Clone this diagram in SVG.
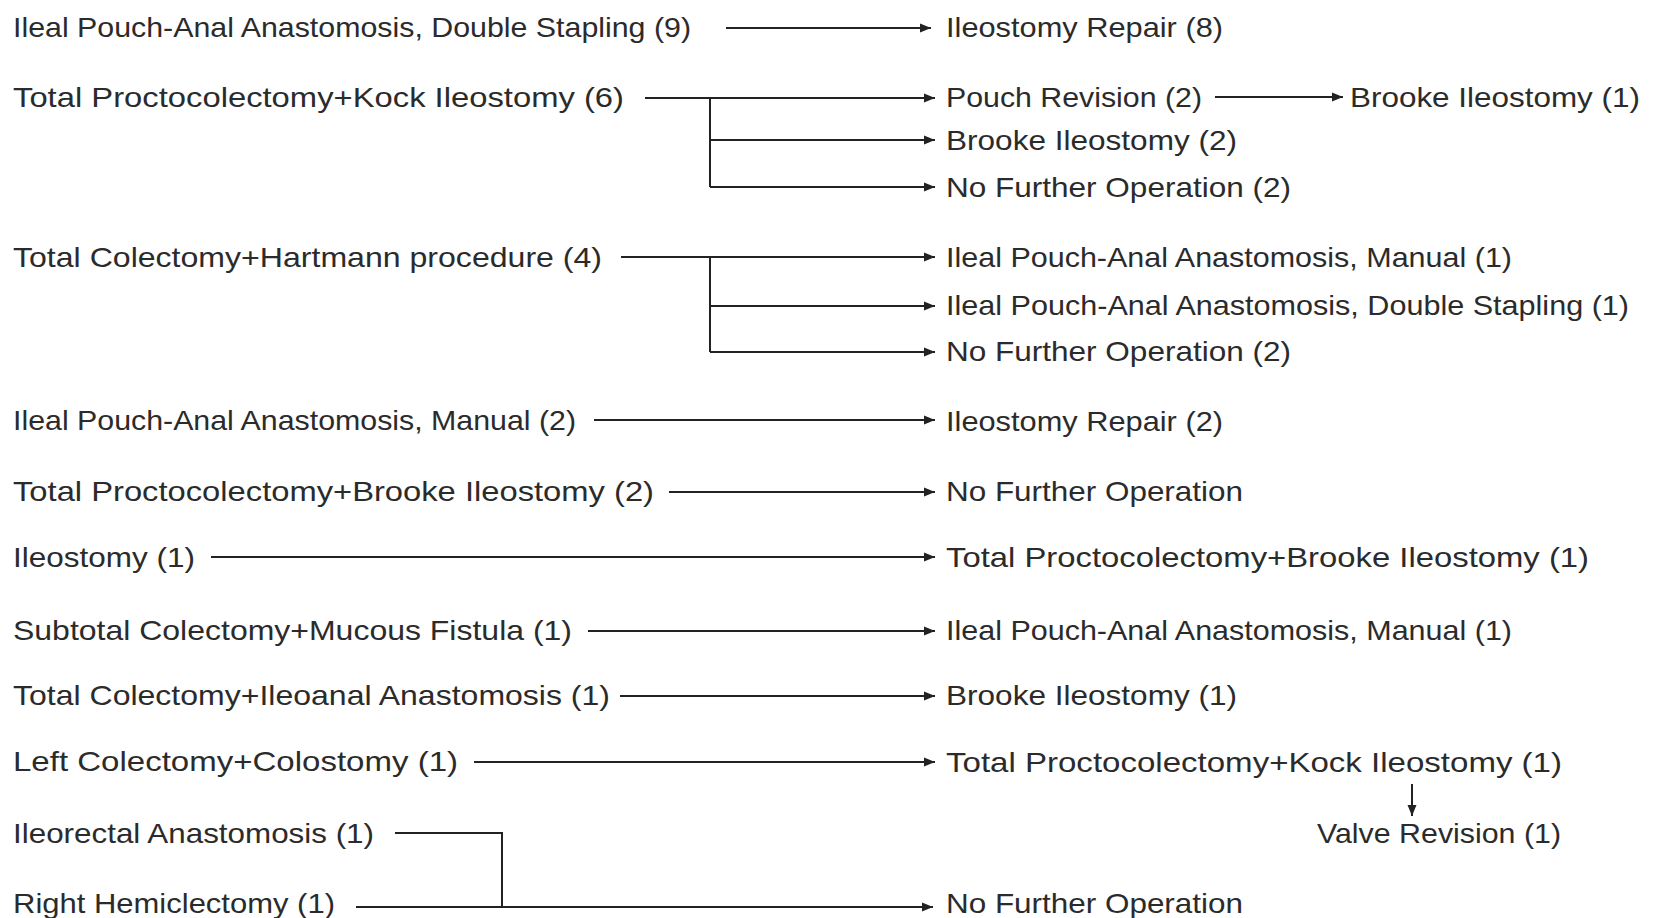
<svg xmlns="http://www.w3.org/2000/svg" width="1658" height="918" viewBox="0 0 1658 918">
<style>
text { font-family: "Liberation Sans", Arial, sans-serif; font-size: 28.5px; fill: #2b2b2b; }
.c { stroke: #222; stroke-width: 2; fill: none; }
.a { marker-end: url(#arr); }
</style>
<defs>
<marker id="arr" markerUnits="userSpaceOnUse" markerWidth="12" markerHeight="10" refX="11" refY="5" orient="auto">
<path d="M0,0.5 L11,5 L0,9.5 z" fill="#222"/>
</marker>
</defs>
<rect width="1658" height="918" fill="#fff"/>
<g id="connectors">
<path class="c a" d="M726,28 H931"/>
<path class="c a" d="M645,98 H935"/>
<path class="c" d="M710,98 V187"/>
<path class="c a" d="M710,140 H935"/>
<path class="c a" d="M710,187 H935"/>
<path class="c a" d="M1215,97 H1343"/>
<path class="c a" d="M621,257 H935"/>
<path class="c" d="M710,257 V352"/>
<path class="c a" d="M710,306 H935"/>
<path class="c a" d="M710,352 H935"/>
<path class="c a" d="M594,420 H935"/>
<path class="c a" d="M669,492 H935"/>
<path class="c a" d="M211,557 H935"/>
<path class="c a" d="M588,631 H935"/>
<path class="c a" d="M620,696 H935"/>
<path class="c a" d="M474,762 H935"/>
<path class="c a" d="M1412,784 V816"/>
<path class="c" d="M395,833 H502 V907"/>
<path class="c a" d="M356,907 H933"/>
</g>
<g id="n-ipaa-ds9"><text x="13" y="37" textLength="678" lengthAdjust="spacingAndGlyphs">Ileal Pouch-Anal Anastomosis, Double Stapling (9)</text></g>
<g id="n-ileo-repair8"><text x="946" y="37" textLength="277" lengthAdjust="spacingAndGlyphs">Ileostomy Repair (8)</text></g>
<g id="n-tpc-kock6"><text x="13" y="107" textLength="611" lengthAdjust="spacingAndGlyphs">Total Proctocolectomy+Kock Ileostomy (6)</text></g>
<g id="n-pouch-rev2"><text x="946" y="107" textLength="256" lengthAdjust="spacingAndGlyphs">Pouch Revision (2)</text></g>
<g id="n-brooke1a"><text x="1350" y="107" textLength="290" lengthAdjust="spacingAndGlyphs">Brooke Ileostomy (1)</text></g>
<g id="n-brooke2"><text x="946" y="150" textLength="291" lengthAdjust="spacingAndGlyphs">Brooke Ileostomy (2)</text></g>
<g id="n-nfo2a"><text x="946" y="197" textLength="345" lengthAdjust="spacingAndGlyphs">No Further Operation (2)</text></g>
<g id="n-tc-hartmann4"><text x="13" y="267" textLength="589" lengthAdjust="spacingAndGlyphs">Total Colectomy+Hartmann procedure (4)</text></g>
<g id="n-ipaa-m1a"><text x="946" y="267" textLength="566" lengthAdjust="spacingAndGlyphs">Ileal Pouch-Anal Anastomosis, Manual (1)</text></g>
<g id="n-ipaa-ds1"><text x="946" y="315" textLength="683" lengthAdjust="spacingAndGlyphs">Ileal Pouch-Anal Anastomosis, Double Stapling (1)</text></g>
<g id="n-nfo2b"><text x="946" y="361" textLength="345" lengthAdjust="spacingAndGlyphs">No Further Operation (2)</text></g>
<g id="n-ipaa-m2"><text x="13" y="430" textLength="563" lengthAdjust="spacingAndGlyphs">Ileal Pouch-Anal Anastomosis, Manual (2)</text></g>
<g id="n-ileo-repair2"><text x="946" y="431" textLength="277" lengthAdjust="spacingAndGlyphs">Ileostomy Repair (2)</text></g>
<g id="n-tpc-brooke2"><text x="13" y="501" textLength="641" lengthAdjust="spacingAndGlyphs">Total Proctocolectomy+Brooke Ileostomy (2)</text></g>
<g id="n-nfo-a"><text x="946" y="501" textLength="297" lengthAdjust="spacingAndGlyphs">No Further Operation</text></g>
<g id="n-ileostomy1"><text x="13" y="567" textLength="182" lengthAdjust="spacingAndGlyphs">Ileostomy (1)</text></g>
<g id="n-tpc-brooke1"><text x="946" y="567" textLength="643" lengthAdjust="spacingAndGlyphs">Total Proctocolectomy+Brooke Ileostomy (1)</text></g>
<g id="n-stc-mf1"><text x="13" y="640" textLength="559" lengthAdjust="spacingAndGlyphs">Subtotal Colectomy+Mucous Fistula (1)</text></g>
<g id="n-ipaa-m1b"><text x="946" y="640" textLength="566" lengthAdjust="spacingAndGlyphs">Ileal Pouch-Anal Anastomosis, Manual (1)</text></g>
<g id="n-tc-iaa1"><text x="13" y="705" textLength="597" lengthAdjust="spacingAndGlyphs">Total Colectomy+Ileoanal Anastomosis (1)</text></g>
<g id="n-brooke1b"><text x="946" y="705" textLength="291" lengthAdjust="spacingAndGlyphs">Brooke Ileostomy (1)</text></g>
<g id="n-lc-col1"><text x="13" y="771" textLength="445" lengthAdjust="spacingAndGlyphs">Left Colectomy+Colostomy (1)</text></g>
<g id="n-tpc-kock1"><text x="946" y="772" textLength="616" lengthAdjust="spacingAndGlyphs">Total Proctocolectomy+Kock Ileostomy (1)</text></g>
<g id="n-valve-rev1"><text x="1317" y="843" textLength="244" lengthAdjust="spacingAndGlyphs">Valve Revision (1)</text></g>
<g id="n-ira1"><text x="13" y="843" textLength="361" lengthAdjust="spacingAndGlyphs">Ileorectal Anastomosis (1)</text></g>
<g id="n-rhc1"><text x="13" y="913" textLength="322" lengthAdjust="spacingAndGlyphs">Right Hemiclectomy (1)</text></g>
<g id="n-nfo-b"><text x="946" y="913" textLength="297" lengthAdjust="spacingAndGlyphs">No Further Operation</text></g>
</svg>
